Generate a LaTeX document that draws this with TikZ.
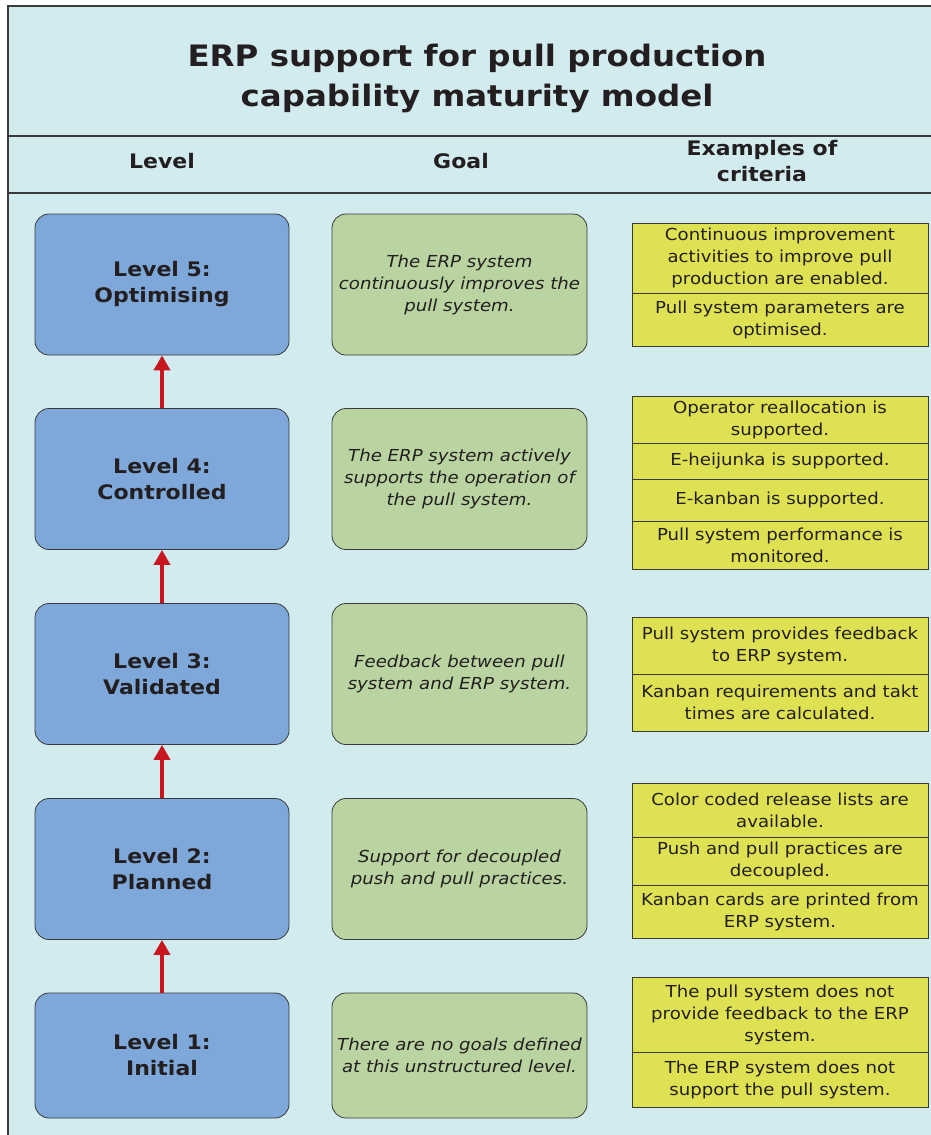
\documentclass[tikz,border=0pt]{standalone}
\usepackage{fontspec}
\setmainfont[FakeStretch=1.1]{DejaVu Sans}
\usetikzlibrary{arrows.meta}
\definecolor{bgblue}{HTML}{D2EBEF}
\definecolor{levelblue}{HTML}{7EA8D9}
\definecolor{goalgreen}{HTML}{B9D4A0}
\definecolor{crityellow}{HTML}{DEE152}
\definecolor{arrowred}{HTML}{C8161E}
\definecolor{ink}{HTML}{231F20}
\definecolor{rule}{HTML}{3A3A3A}
\begin{document}
\begin{tikzpicture}[x=1pt,y=-1pt,
  levelbox/.style={draw=rule, line width=0.8pt, fill=levelblue, rounded corners=14pt,
    minimum width=254pt, minimum height=141pt, inner sep=0pt, text=ink, align=center,
    font=\bfseries\fontsize{20}{26}\selectfont},
  goalbox/.style={draw=rule, line width=0.8pt, fill=goalgreen, rounded corners=14pt,
    minimum width=255pt, minimum height=141pt, inner sep=0pt, text=ink, align=center,
    font=\itshape\fontsize{16.5}{22}\selectfont},
  critcell/.style={draw=rule, line width=0.8pt, fill=crityellow,
    minimum width=296pt, inner sep=0pt, text=ink, align=center,
    font=\fontsize{16.5}{22}\selectfont},
  header/.style={text=ink, align=center, font=\bfseries\fontsize{20}{26}\selectfont},
  uparrow/.style={draw=arrowred, line width=4pt, -{Triangle[length=15pt,width=16pt]}},
  frameline/.style={draw=rule, line width=1.5pt}
]
\useasboundingbox (0,0) rectangle (931,1135);
\fill[white] (0,0) rectangle (931,1135);
% panel background and rules
\fill[bgblue] (8,6) rectangle (940,1145);
\draw[frameline] (8,1145) -- (8,6) -- (940,6);
\draw[frameline] (8,136) -- (940,136);
\draw[frameline] (8,193) -- (940,193);

% title and column headers
\node[header, font=\bfseries\fontsize{29.5}{40}\selectfont] (title) at (477,78)
  {ERP support for pull production\\capability maturity model};
\node[header] (hlevel) at (162,161) {Level};
\node[header] (hgoal) at (461,161) {Goal};
\node[header] (hcrit) at (762,161) {Examples of\\criteria};

% levels
\node[levelbox] (l5) at (162,284.5) {Level 5:\\Optimising};
\node[levelbox] (l4) at (162,479) {Level 4:\\Controlled};
\node[levelbox] (l3) at (162,674) {Level 3:\\Validated};
\node[levelbox] (l2) at (162,869) {Level 2:\\Planned};
\node[levelbox, minimum height=125pt] (l1) at (162,1055.5) {Level 1:\\Initial};

\draw[uparrow] (l1.north) -- (l2.south);
\draw[uparrow] (l2.north) -- (l3.south);
\draw[uparrow] (l3.north) -- (l4.south);
\draw[uparrow] (l4.north) -- (l5.south);

% goals
\node[goalbox] (g5) at (459.5,284.5) {The ERP system\\continuously improves the\\pull system.};
\node[goalbox] (g4) at (459.5,479) {The ERP system actively\\supports the operation of\\the pull system.};
\node[goalbox] (g3) at (459.5,674) {Feedback between pull\\system and ERP system.};
\node[goalbox] (g2) at (459.5,869) {Support for decoupled\\push and pull practices.};
\node[goalbox, minimum height=125pt] (g1) at (459.5,1055.5) {There are no goals defined\\at this unstructured level.};

% criteria
\node[critcell, minimum height=70pt] (c5a) at (780,258) {Continuous improvement\\activities to improve pull\\production are enabled.};
\node[critcell, minimum height=53pt] (c5b) at (780,319.5) {Pull system parameters are\\optimised.};

\node[critcell, minimum height=47pt] (c4a) at (780,419.5) {Operator reallocation is\\supported.};
\node[critcell, minimum height=36pt] (c4b) at (780,461) {E-heijunka is supported.};
\node[critcell, minimum height=42pt] (c4c) at (780,500) {E-kanban is supported.};
\node[critcell, minimum height=48pt] (c4d) at (780,545) {Pull system performance is\\monitored.};

\node[critcell, minimum height=57pt] (c3a) at (780,645.5) {Pull system provides feedback\\to ERP system.};
\node[critcell, minimum height=57pt] (c3b) at (780,702.5) {Kanban requirements and takt\\times are calculated.};

\node[critcell, minimum height=54pt] (c2a) at (780,810) {Color coded release lists are\\available.};
\node[critcell, minimum height=48pt] (c2b) at (780,861) {Push and pull practices are\\decoupled.};
\node[critcell, minimum height=53pt] (c2c) at (780,911.5) {Kanban cards are printed from\\ERP system.};

\node[critcell, minimum height=75pt] (c1a) at (780,1014.5) {The pull system does not\\provide feedback to the ERP\\system.};
\node[critcell, minimum height=55pt] (c1b) at (780,1079.5) {The ERP system does not\\support the pull system.};
\end{tikzpicture}
\end{document}
